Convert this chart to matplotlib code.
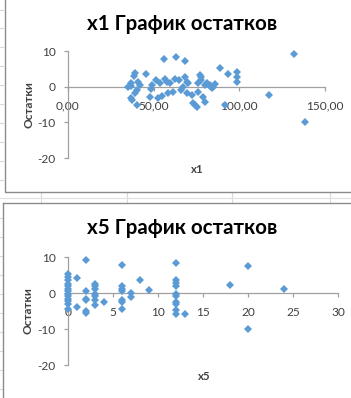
import matplotlib
matplotlib.use("Agg")
import matplotlib.pyplot as plt
from matplotlib.lines import Line2D

# ---- data ----
x1_vals = [39.3, 38.4, 45.8, 35.1, 37.0, 40.9, 41.9, 40.0, 39.0, 37.0, 37.6, 40.0,
           49.3, 48.7, 47.7, 51.6, 53.6, 52.6, 56.5, 57.5, 59.4, 58.4, 61.4, 62.4,
           64.7, 68.2, 69.2, 67.2, 70.1, 69.2, 72.1, 74.0, 75.0, 76.0, 77.0, 77.9,
           78.9, 79.9, 80.9, 82.8, 84.7, 85.7, 88.7, 56.1, 62.8, 68.4, 93.2, 98.4,
           98.4, 98.4, 117.3, 132.1, 138.3, 91.6, 77.9, 76.0, 79.9, 82.8, 83.8,
           73.0, 36.5, 55.0, 66.0]
resid1 = [3.75, 3.0, 3.56, -0.2, 0.95, 1.4, 0.5, -0.9, -1.9, -3.1, -3.7, -5.1,
          0.5, -0.7, -2.8, 1.9, 0.95, -3.3, 2.1, 1.4, 0.95, -1.9, -1.4, 2.1,
          1.9, 2.8, 1.4, -0.2, 0.95, -1.9, -2.3, -5.1, -5.6, -1.4, 3.3, 1.9,
          -3.0, -4.2, 0.95, 0.5, 0.0, 0.75, 5.2, 7.8, 8.2, 7.3, 3.5, 4.0,
          2.8, 1.2, -2.3, 9.2, -9.8, -5.2, 2.6, 0.95, 0.5, 0.2, -0.45,
          -4.7, 0.3, -2.6, -1.0]

x5_vals = [0, 0, 0, 0, 0, 0, 0, 0, 0, 0, 0, 0, 0,
           1, 1,
           2, 2, 2, 2, 2, 2,
           3, 3, 3, 3, 3, 3, 3,
           4,
           6, 6, 6, 6, 6, 6, 6,
           7, 7, 8, 9,
           12, 12, 12, 12, 12, 12, 12, 12, 12, 12,
           13, 18, 20, 20, 24]
resid5 = [5.2, 4.5, 3.6, 2.6, 1.9, 1.2, 0.5, -0.2, -0.9, -1.6, -2.2, -3.0, -4.4,
          4.2, -3.9,
          9.2, 0.5, -1.6, -2.0, -4.9, -5.6,
          2.6, 1.9, 1.0, -0.2, -0.9, -2.0, -3.4,
          -2.6,
          7.8, 1.9, 1.2, 0.6, -1.9, -2.5, -4.4,
          0.0, -1.1, 3.6, 0.9,
          8.3, 3.6, 2.8, 1.9, -0.2, -0.7, -2.5, -3.0, -4.7, -5.8,
          -5.7, 2.2, 7.4, -10.0, 1.1]

y_ticks = [10, 0, -10, -20]
x1_ticks = [0, 50, 100, 150]
x1_ticklabels = ["0,00", "50,00", "100,00", "150,00"]
x5_ticks = [0, 5, 10, 15, 20, 25, 30]

W, H = 351, 398
fig = plt.figure(figsize=(W / 100, H / 100), dpi=100)
fig.patch.set_facecolor("white")

FONT = ["Lato", "DejaVu Sans"]
PT_COLOR = "#5B9BD5"
AX_COLOR = "#A0A0A0"
TXT = "#404040"


def fx(px):
    return px / W


def fy(py):
    return 1 - py / H


# background spreadsheet grid lines (faint)
for gx in [41, 127, 232, 330]:
    fig.add_artist(Line2D([fx(gx), fx(gx)], [fy(192), fy(203)], color="#D9D9D9", lw=0.8))
for gy in [10, 28, 47, 66, 85, 104, 123, 142, 161, 180, 218, 237, 256, 275, 294, 313, 332, 351, 370, 389]:
    fig.add_artist(Line2D([0, fx(3)], [fy(gy), fy(gy)], color="#D9D9D9", lw=0.8))
fig.add_artist(Line2D([0, 1], [fy(197.5), fy(197.5)], color="#E0E0E0", lw=0.8))

# chart frames
fig.add_artist(Line2D([fx(5), fx(5), fx(352)], [fy(-2), fy(192), fy(192)], color="#8C8C8C", lw=1.0))
fig.add_artist(Line2D([fx(3), fx(3)], [fy(400), fy(203)], color="#8C8C8C", lw=1.0))
fig.add_artist(Line2D([fx(3), fx(352)], [fy(203), fy(203)], color="#8C8C8C", lw=1.0))


def make_axes(left, right, top, bottom, xs, ys, xlim, xticks, xticklabels,
              title, xlabel, title_y, xlabel_y, ylabel_x):
    ax = fig.add_axes([fx(left), fy(bottom), fx(right) - fx(left), fy(top) - fy(bottom)])
    ax.set_facecolor("none")
    ax.plot(xs, ys, linestyle="none", marker="D", ms=4.3, color=PT_COLOR,
            markeredgewidth=0, clip_on=False, zorder=3)
    ax.set_xlim(*xlim)
    ax.set_ylim(-20, 10)
    for s in ["top", "right"]:
        ax.spines[s].set_visible(False)
    ax.spines["left"].set_color(AX_COLOR)
    ax.spines["bottom"].set_color(AX_COLOR)
    ax.spines["left"].set_linewidth(0.9)
    ax.spines["bottom"].set_linewidth(0.9)
    ax.spines["bottom"].set_position(("data", 0))
    ax.set_yticks(y_ticks)
    ax.set_yticklabels([str(v) for v in y_ticks])
    ax.set_xticks(xticks)
    ax.set_xticklabels(xticklabels)
    ax.tick_params(axis="both", colors=AX_COLOR, length=3, width=0.9, direction="out",
                   labelcolor=TXT, labelsize=8.6)
    ax.tick_params(axis="x", pad=7)
    ax.tick_params(axis="y", pad=6)
    for lab in ax.get_xticklabels() + ax.get_yticklabels():
        lab.set_family(FONT)
    fig.text(fx(182), fy(title_y), title, ha="center", va="center", fontsize=14.8,
             fontweight="bold", family=FONT, color="black")
    fig.text(fx((left + right) / 2 + 1), fy(xlabel_y), xlabel, ha="center", va="center",
             fontsize=8.2, fontweight="bold", family=FONT, color=TXT)
    fig.text(fx(ylabel_x), fy((top + bottom) / 2), "Остатки", ha="center", va="center",
             rotation=90, fontsize=8.6, fontweight="bold", family=FONT, color=TXT)
    return ax


make_axes(68, 325, 51, 158, x1_vals, resid1, (0, 150), x1_ticks, x1_ticklabels,
          "x1 График остатков", "x1", 24, 170, 29)
make_axes(68, 338, 257, 365, x5_vals, resid5, (0, 30), x5_ticks,
          [str(v) for v in x5_ticks],
          "x5 График остатков", "x5", 228, 376, 28)

fig.savefig("out.png", dpi=100)
